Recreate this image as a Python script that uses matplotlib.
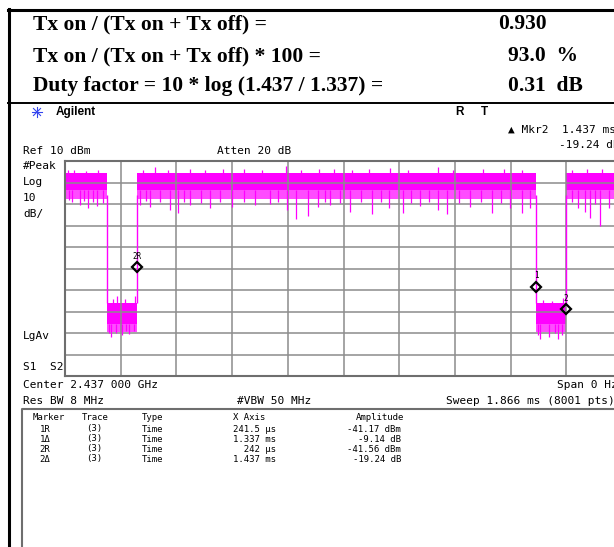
import numpy as np
import matplotlib
matplotlib.use('Agg')
import matplotlib.pyplot as plt

# sweep settings
sweep_ms = 1.866
ref_dbm = 10
db_div = 10

# on/off segments of the burst (ms)
off_start = [0.141, 1.5785]
off_end = [0.2415, 1.679]
on_top, on_low = 4.5, -3.5
off_top, off_low = -56.0, -66.0

# downward spikes of the on level (ms, dBm)
spike_t = [0.012, 0.023, 0.050, 0.063, 0.077, 0.094, 0.107, 0.127, 0.251, 0.270,
           0.285, 0.318, 0.352, 0.379, 0.400, 0.419, 0.455, 0.486, 0.520, 0.559,
           0.600, 0.636, 0.687, 0.712, 0.744, 0.774, 0.814, 0.848, 0.870, 0.888,
           0.920, 0.955, 0.990, 1.028, 1.060, 1.085, 1.132, 1.160, 1.189, 1.220,
           1.250, 1.280, 1.320, 1.357, 1.395, 1.430, 1.460, 1.491, 1.531, 1.558,
           1.700, 1.719, 1.742, 1.759, 1.775, 1.792, 1.822, 1.850]
spike_v = [-8.0, -9.0, -10.5, -8.5, -12.0, -9.0, -11.0, -9.5, -10.5, -8.5,
           -11.4, -9.0, -12.8, -14.2, -9.0, -10.5, -9.5, -11.9, -9.0, -11.4,
           -9.0, -10.5, -10.0, -9.0, -12.8, -17.0, -15.6, -11.4, -9.0, -10.5,
           -9.5, -13.7, -9.0, -14.7, -9.0, -11.9, -14.2, -9.5, -10.9, -9.0,
           -12.8, -14.7, -9.5, -11.4, -9.0, -14.2, -9.5, -11.9, -14.2, -11.9,
           -9.0, -12.0, -13.7, -16.5, -10.0, -20.0, -12.0, -9.0]
# upward peaks of the on level
peak_t = [0.010, 0.030, 0.070, 0.110, 0.260, 0.300, 0.345, 0.420, 0.470, 0.530,
          0.600, 0.660, 0.740, 0.790, 0.850, 0.900, 0.960, 1.020, 1.090, 1.150,
          1.250, 1.300, 1.400, 1.470, 1.530, 1.700, 1.750, 1.800, 1.850]
peak_v = [6.0, 6.0, 5.5, 6.0, 6.0, 7.0, 6.0, 6.5, 5.8, 6.2,
          6.5, 6.0, 7.5, 6.0, 6.2, 6.5, 6.0, 6.2, 6.8, 6.0,
          7.0, 6.0, 6.5, 6.2, 6.0, 6.0, 6.5, 6.2, 6.0]
# spikes of the off level
off_spike_t = [0.148, 0.155, 0.170, 0.190, 0.205, 0.215, 0.230, 1.585, 1.590, 1.620,
               1.640, 1.650, 1.665]
off_spike_v = [-70.0, -72.0, -70.0, -71.0, -69.0, -70.5, -69.0, -71.0, -73.0, -72.0,
               -70.0, -73.0, -71.0]
off_peak_t = [0.160, 0.175, 0.200, 0.235, 1.600, 1.630, 1.670]
off_peak_v = [-54.0, -53.0, -54.0, -53.0, -54.5, -55.0, -53.5]

# markers (ms, dBm as drawn)
mkr_t = [0.242, 1.5785, 1.679]
mkr_v = [-39.5, -48.5, -59.0]
mkr_lab = ['2R', '1', '2']

# marker table
tbl_marker = ['1R', '1\u0394', '2R', '2\u0394']
tbl_trace = ['(3)', '(3)', '(3)', '(3)']
tbl_type = ['Time', 'Time', 'Time', 'Time']
tbl_x = ['241.5 \u00b5s', '1.337 ms', '  242 \u00b5s', '1.437 ms']
tbl_amp = ['-41.17 dBm', '-9.14 dB', '-41.56 dBm', '-19.24 dB']

# summary rows
sum_lab = ['Tx on / (Tx on + Tx off) =', 'Tx on / (Tx on + Tx off) * 100 =',
           'Duty factor = 10 * log (1.437 / 1.337) =']
sum_val = ['0.930', '93.0  %', '0.31  dB']

W, H = 614, 547
fig = plt.figure(figsize=(W / 100, H / 100), dpi=100)
fig.patch.set_facecolor('white')

MAG = '#ff00ff'
# plot grid area in pixels: x 65..622, y 161..376
gx0, gx1, gy0, gy1 = 65, 622, 161, 376
ax = fig.add_axes([gx0 / W, 1 - gy1 / H, (gx1 - gx0) / W, (gy1 - gy0) / H])
ax.set_xlim(0, sweep_ms)
ax.set_ylim(ref_dbm - 10 * db_div, ref_dbm)
ax.set_xticks(np.linspace(0, sweep_ms, 11))
ax.set_yticks(np.linspace(ref_dbm - 10 * db_div, ref_dbm, 11))
ax.tick_params(length=0, labelbottom=False, labelleft=False)
ax.grid(True, color='#8c8c8c', lw=1.1)
for s in ax.spines.values():
    s.set_color('#6e6e6e')
    s.set_linewidth(1.5)

# on segments
on_edges = [0] + [v for pair in zip(off_start, off_end) for v in pair] + [sweep_ms]
for a, b in zip(on_edges[0::2], on_edges[1::2]):
    ax.fill_between([a, b], on_low, on_top, color=MAG, lw=0)
    ax.fill_between([a, b], -7.5, on_low, color=MAG, alpha=0.7, lw=0)
for a, b in zip(off_start, off_end):
    ax.fill_between([a, b], off_low, off_top, color=MAG, lw=0)
    ax.fill_between([a, b], -69.5, off_low, color=MAG, alpha=0.7, lw=0)
    ax.vlines([a, b], off_top, -6, color=MAG, lw=1.0)
ax.vlines(spike_t, on_low, spike_v, color=MAG, lw=0.9)
ax.vlines(peak_t, on_top - 1, peak_v, color=MAG, lw=0.9)
ax.vlines(off_spike_t, off_low, off_spike_v, color=MAG, lw=0.9)
ax.vlines(off_peak_t, off_top, off_peak_v, color=MAG, lw=0.9)

ax.plot(mkr_t, mkr_v, ls='none', marker='D', ms=5, mfc='none', mec='black', mew=1.6, zorder=5)
for t, v, lab in zip(mkr_t, mkr_v, mkr_lab):
    ax.annotate(lab, (t, v), xytext=(0, 8), textcoords='offset points', ha='center',
                va='center', fontsize=5.5, family='DejaVu Sans Mono')

# overlay in pixel coordinates for the frame and all text
ov = fig.add_axes([0, 0, 1, 1], zorder=10)
ov.set_xlim(0, W)
ov.set_ylim(H, 0)
ov.axis('off')
ov.patch.set_alpha(0)

ov.plot([8, W], [10, 10], color='black', lw=2.2)
ov.plot([9, 9], [9, H], color='black', lw=2.2)
ov.plot([8, W], [103, 103], color='black', lw=1.4)

serif = dict(family='Liberation Serif', weight='bold', fontsize=15.5, va='center')
rows_y = [24, 56, 86]
val_x = [498, 508, 508]
for y, lab, val, vx in zip(rows_y, sum_lab, sum_val, val_x):
    ov.text(33, y, lab, **serif)
    ov.text(vx, y, val, **serif)

# Agilent logo
for ang in np.linspace(0, np.pi, 4, endpoint=False):
    ov.plot([37 - 5 * np.cos(ang), 37 + 5 * np.cos(ang)],
            [112 - 5 * np.sin(ang), 112 + 5 * np.sin(ang)], color='#3344ee', lw=0.8)
ov.text(56, 112, 'Agilent', family='Liberation Sans', weight='bold', fontsize=8.5, va='center')
ov.text(455, 112, 'R', family='Liberation Sans', weight='bold', fontsize=8.5, va='center')
ov.text(481, 112, 'T', family='Liberation Sans', weight='bold', fontsize=8.5, va='center')

mono = dict(family='DejaVu Sans Mono', fontsize=8, va='center')
ov.text(508, 130, '\u25b2 Mkr2  1.437 ms', **dict(mono))
ov.text(W + 6, 145, '-19.24 dB', ha='right', **mono)
ov.text(23, 151, 'Ref 10 dBm', **mono)
ov.text(217, 151, 'Atten 20 dB', **mono)
for y, s in zip([166, 182, 198, 214], ['#Peak', 'Log', '10', 'dB/']):
    ov.text(23, y, s, **mono)
ov.text(23, 336, 'LgAv', **mono)
ov.text(23, 367, 'S1  S2', **mono)
ov.text(23, 385, 'Center 2.437 000 GHz', **mono)
ov.text(W + 4, 385, 'Span 0 Hz', ha='right', **mono)
ov.text(23, 401, 'Res BW 8 MHz', **mono)
ov.text(237, 401, '#VBW 50 MHz', **mono)
ov.text(W + 1, 401, 'Sweep 1.866 ms (8001 pts)', ha='right', **mono)

# marker table box
ov.plot([22, 22, W], [H, 409, 409], color='#6e6e6e', lw=1.5)
small = dict(family='DejaVu Sans Mono', fontsize=6.5, va='center')
ov.text(33, 418, 'Marker', **small)
ov.text(82, 418, 'Trace', **small)
ov.text(142, 418, 'Type', **small)
ov.text(233, 418, 'X Axis', **small)
ov.text(356, 418, 'Amplitude', **small)
for i in range(len(tbl_marker)):
    y = 429 + i * 10
    ov.text(45, y, tbl_marker[i], ha='center', **small)
    ov.text(86, y, tbl_trace[i], **small)
    ov.text(142, y, tbl_type[i], **small)
    ov.text(233, y, tbl_x[i], **small)
    ov.text(401, y, tbl_amp[i], ha='right', **small)

fig.savefig('out.png', dpi=100)
